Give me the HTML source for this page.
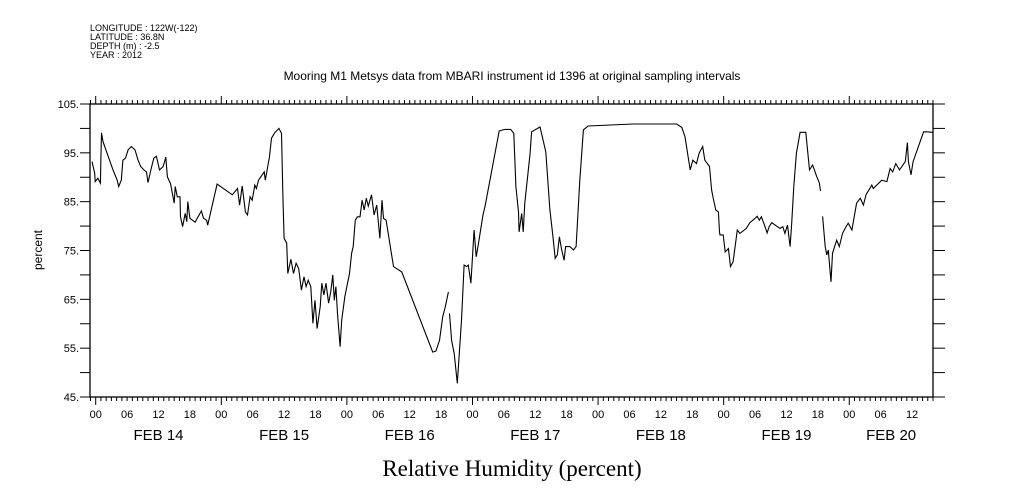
<!DOCTYPE html>
<html><head><meta charset="utf-8"><style>
html,body{margin:0;padding:0;background:#fff;}
svg{display:block;font-family:"Liberation Sans",sans-serif;}
</style></head><body>
<svg id="chart" width="1009" height="504" viewBox="0 0 1009 504" xmlns="http://www.w3.org/2000/svg">
<g font-size="9" fill="#000">
<text x="90" y="31">LONGITUDE : 122W(-122)</text>
<text x="90" y="40">LATITUDE : 36.8N</text>
<text x="90" y="49">DEPTH (m) : -2.5</text>
<text x="90" y="58">YEAR : 2012</text>
</g>
<text x="512" y="80" font-size="12" text-anchor="middle">Mooring M1 Metsys data from MBARI instrument id 1396 at original sampling intervals</text>
<text x="512" y="476" font-size="23" text-anchor="middle" font-family="'Liberation Serif',serif">Relative Humidity (percent)</text>
<text transform="translate(42,250) rotate(-90)" font-size="12" text-anchor="middle">percent</text>
<g id="axes"></g>
<g id="marks"></g>
</svg>
<script>
const hours=[-0.7,-0.2,-0.1,0.4,0.9,1.0,1.1,1.4,2.4,3.3,4.1,4.4,4.9,5.2,5.7,6.2,6.8,7.5,8.1,8.6,9.2,9.7,10.0,10.6,11.1,11.6,12.2,12.9,13.4,13.7,14.3,15.0,15.2,15.6,16.1,16.2,16.6,17.1,17.4,17.6,18.0,19.0,20.2,20.6,21.2,21.4,23.2,26.1,27.1,27.5,28.0,28.6,29.0,29.5,29.9,30.4,30.7,31.1,32.2,32.4,33.2,33.6,34.2,35.0,35.5,35.8,36.0,36.5,36.7,37.3,37.8,38.3,38.8,39.3,39.8,40.2,40.6,41.1,41.5,41.9,42.3,42.9,43.2,43.6,44.0,44.5,44.9,45.3,45.6,45.9,46.2,46.7,47.0,47.6,48.5,48.9,49.2,49.6,50.0,50.5,50.9,51.3,51.7,52.1,52.7,53.2,53.7,54.3,54.7,55.0,55.5,56.9,57.5,58.5,64.4,65.0,65.7,66.3,66.8,67.4,67.5,67.6,68.0,68.5,69.1,69.9,70.4,70.9,71.2,71.7,72.3,72.7,73.1,74.0,74.4,77.1,78.2,79.3,79.9,80.3,80.8,80.9,81.4,81.7,82.0,83.0,83.3,84.9,85.5,86.0,86.8,87.3,87.8,88.2,88.6,89.0,89.5,89.8,90.6,91.3,91.8,92.5,93.2,94.1,102.7,111.0,112.0,112.6,113.2,113.6,114.1,114.8,115.3,116.0,116.4,117.3,117.7,118.0,118.5,119.0,119.2,119.3,119.9,120.3,120.9,121.3,121.8,122.6,123.1,124.3,125.0,126.0,126.4,126.8,127.2,127.9,128.3,128.7,129.2,130.1,130.8,131.3,131.7,132.2,132.7,133.0,133.4,133.9,134.6,135.7,136.4,137.0,137.8,138.3,138.5,138.7,138.9,139.4,139.7,140.0,140.2,140.5,140.8,141.3,141.6,142.1,142.7,143.4,143.8,144.5,145.4,146.1,146.7,147.2,148.3,148.6,150.2,151.2,151.8,152.3,152.9,153.6,154.7,155.1,155.3,155.8,156.2,158.2,158.8,159.9];
const humidity=[93.2,90.8,89.1,89.8,88.8,93.9,99.1,97.3,94.2,91.5,89.4,88.1,89.4,93.5,93.9,95.6,96.3,95.6,93.5,92.2,91.5,91.1,88.9,91.8,93.9,94.3,91.5,92.2,94.1,90.1,88.7,84.7,88.1,86.0,86.0,81.9,79.9,82.6,80.9,85.0,81.6,80.8,83.1,81.6,81.2,80.2,88.6,86.4,87.7,84.3,88.2,82.9,82.3,86.0,85.3,88.4,87.7,89.4,91.1,89.4,94.1,98.0,99.1,100.0,99.0,85.3,77.5,76.5,70.3,73.2,70.3,72.4,71.3,66.9,69.6,67.6,68.9,67.6,60.1,64.8,59.0,63.5,68.3,65.9,68.3,64.2,66.5,70.0,64.8,67.6,62.1,55.3,60.7,65.5,70.3,74.4,75.8,81.2,81.9,81.9,85.3,83.3,85.7,84.1,86.4,82.3,84.3,77.5,85.3,81.6,81.2,71.7,71.3,70.6,54.2,54.4,56.6,61.4,63.5,66.5,null,62.1,56.6,53.9,47.8,60.7,72.0,71.7,72.0,68.3,79.2,73.7,76.1,82.3,84.0,99.5,99.8,99.8,99.0,88.1,82.9,78.8,82.6,78.8,84.7,94.9,99.3,100.3,97.6,95.2,83.3,78.5,73.4,74.1,77.8,75.4,73.0,75.8,75.8,75.1,75.8,89.4,99.7,100.5,100.9,100.9,100.2,98.3,94.2,91.5,93.5,92.8,94.9,96.3,93.5,92.2,87.4,85.7,83.3,82.9,78.8,78.2,78.2,74.7,75.4,71.7,72.7,79.2,78.5,79.5,80.7,81.6,82.0,81.2,81.9,79.9,78.6,79.9,80.7,80.0,79.5,79.9,78.5,80.2,75.8,80.6,88.1,94.9,99.2,99.2,91.5,92.5,90.1,88.8,87.2,null,82.0,75.8,74.1,75.1,72.4,68.6,74.4,76.1,77.1,75.8,78.5,79.9,80.6,79.2,84.7,85.7,84.3,86.4,88.4,87.7,89.4,89.1,91.8,91.1,92.8,91.5,93.2,97.1,93.2,90.5,93.2,99.3,99.3,99.2];
const yTickLabels=["105.","95.","85.","75.","65.","55.","45."];
const yTickValues=[105,95,85,75,65,55,45];
const dayLabels=["FEB 14","FEB 15","FEB 16","FEB 17","FEB 18","FEB 19","FEB 20"];
const dayLabelHours=[12,36,60,84,108,132,152];
const hourLabels=["00","06","12","18"];

const L=90,R=933,T=104,B=397;
const hMin=-1.09,hMax=160.0,vMin=45,vMax=105;
function xs(h){return L+(h-hMin)/(hMax-hMin)*(R-L);}
function ys(v){return B-(v-vMin)/(vMax-vMin)*(B-T);}
const NS="http://www.w3.org/2000/svg";
const axes=document.getElementById('axes'),marks=document.getElementById('marks');
function mk(tag,attrs,parent){const e=document.createElementNS(NS,tag);for(const k in attrs)e.setAttribute(k,attrs[k]);parent.appendChild(e);return e;}

const frame=mk('rect',{x:L,y:T,width:R-L,height:B-T,fill:'none',stroke:'#000','stroke-width':1.3},axes);



for(let v=vMin;v<=vMax;v+=5){
  const y=ys(v);
  const t1=mk('line',{x1:L-10,x2:L,y1:y,y2:y,stroke:'#000'},axes);
  
  
  const t2=mk('line',{x1:R,x2:R+12,y1:y,y2:y,stroke:'#000'},axes);
  
  
}
yTickLabels.forEach((lab,i)=>{
  const t=mk('text',{x:L-11,y:ys(yTickValues[i])+4,'font-size':11,'text-anchor':'end'},axes);
  t.textContent=lab;
  
  
});
for(let h=Math.ceil(hMin);h<=hMax;h++){
  const x=xs(h);const major=(h%24===0);
  const a=mk('line',{x1:x,x2:x,y1:T,y2:T-(major?8:4),stroke:'#000'},axes);
  
  
  const b=mk('line',{x1:x,x2:x,y1:B,y2:B+(major?8:4),stroke:'#000'},axes);
  
  
}
for(let h=0;h<=hMax;h+=6){
  const t=mk('text',{x:xs(h),y:418,'font-size':11,'text-anchor':'middle'},axes);
  t.textContent=hourLabels[(h/6)%4];
  
  
}
dayLabels.forEach((d,i)=>{
  const t=mk('text',{x:xs(dayLabelHours[i]),y:440,'font-size':15,'text-anchor':'middle'},axes);
  t.textContent=d;
  
  
});
let path='',pen=false;
for(let i=0;i<hours.length;i++){
  const v=humidity[i];
  if(v===null){pen=false;continue;}
  path+=(pen?'L':'M')+xs(hours[i]).toFixed(1)+' '+ys(v).toFixed(1);
  pen=true;
}
const line=mk('path',{d:path,fill:'none',stroke:'#000','stroke-width':1.1},marks);


</script>
</body></html>
